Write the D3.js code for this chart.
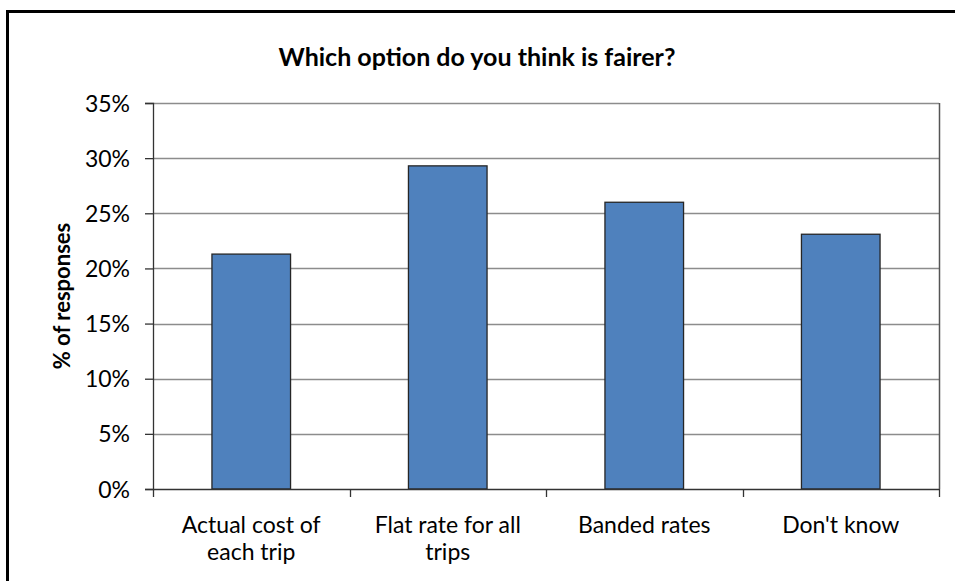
<!DOCTYPE html>
<html>
<head>
<meta charset="utf-8">
<script src="https://cdn.jsdelivr.net/npm/d3@7"></script>
<style>
  body { margin: 0; background: #fff; }
  svg text { font-family: Lato, "Open Sans", sans-serif; fill: #000; }
</style>
</head>
<body>
<svg id="chart"></svg>
<script>
// categories and share of responses (%)
const categories = [["Actual cost of", "each trip"], ["Flat rate for all", "trips"], ["Banded rates"], ["Don't know"]];
const values = [21.3, 29.3, 26.0, 23.1];
const yTicks = [0, 5, 10, 15, 20, 25, 30, 35];

const width = 955, height = 581;
const margin = {top: 103, right: 16, bottom: 92, left: 153};

const svg = d3.select("#chart")
    .attr("width", width)
    .attr("height", height);

// outer frame
svg.append("rect")
    .attr("x", 7.5).attr("y", 11.5)
    .attr("width", width).attr("height", height)
    .attr("fill", "none")
    .attr("stroke", "#000")
    .attr("stroke-width", 3);

const innerW = width - margin.left - margin.right;
const innerH = height - margin.top - margin.bottom;

const chart = svg.append("g")
    .attr("transform", `translate(${margin.left},${margin.top})`);

const x = d3.scaleBand()
    .domain(d3.range(categories.length))
    .range([0, innerW])
    .paddingInner(0.6)
    .paddingOuter(0.3);

const y = d3.scaleLinear()
    .domain([0, 35])
    .range([innerH, 0]);

// gridlines
chart.append("g")
    .selectAll("line")
    .data(yTicks.filter(d => d > 0))
    .join("line")
    .attr("x1", 0).attr("x2", innerW)
    .attr("y1", d => Math.round(y(d)) + 0.5)
    .attr("y2", d => Math.round(y(d)) + 0.5)
    .attr("stroke", "#8c8c8c")
    .attr("stroke-width", 1.3);

// right border of plot area
chart.append("line")
    .attr("x1", innerW + 0.5).attr("x2", innerW + 0.5)
    .attr("y1", 0).attr("y2", innerH)
    .attr("stroke", "#555")
    .attr("stroke-width", 1.5);

// bars
chart.append("g")
    .selectAll("rect")
    .data(values)
    .join("rect")
    .attr("x", (d, i) => x(i))
    .attr("y", d => y(d))
    .attr("width", x.bandwidth())
    .attr("height", d => innerH - y(d))
    .attr("fill", "#4f81bd")
    .attr("stroke", "#262626")
    .attr("stroke-width", 1.3);

// y axis
const yAxis = d3.axisLeft(y)
    .tickValues(yTicks)
    .tickSize(8)
    .tickPadding(15)
    .tickFormat(d => d + "%");

const yAxisG = chart.append("g").call(yAxis);
yAxisG.select(".domain").attr("stroke", "#333").attr("stroke-width", 1.3);
yAxisG.selectAll(".tick line").attr("stroke", "#333").attr("stroke-width", 1.3);
yAxisG.selectAll(".tick text")
    .style("font-size", "23px")
    .attr("dy", "0.35em");

// x axis with ticks at category boundaries
const xAxisG = chart.append("g")
    .attr("transform", `translate(0,${innerH})`);
xAxisG.append("line")
    .attr("x1", 0).attr("x2", innerW)
    .attr("y1", 0.5).attr("y2", 0.5)
    .attr("stroke", "#333")
    .attr("stroke-width", 1.3);
const step = x.step();
xAxisG.selectAll(".xtick")
    .data(d3.range(categories.length + 1))
    .join("line")
    .attr("class", "xtick")
    .attr("x1", i => Math.round(i * step) + 0.5)
    .attr("x2", i => Math.round(i * step) + 0.5)
    .attr("y1", 0).attr("y2", 8)
    .attr("stroke", "#333")
    .attr("stroke-width", 1.3);

const xLabels = xAxisG.selectAll(".xlabel")
    .data(categories)
    .join("text")
    .attr("class", "xlabel")
    .attr("text-anchor", "middle")
    .style("font-size", "23px")
    .attr("transform", (d, i) => `translate(${x(i) + x.bandwidth() / 2},44)`);
xLabels.selectAll("tspan")
    .data(d => d)
    .join("tspan")
    .attr("x", 0)
    .attr("y", (d, i) => i * 27)
    .text(d => d);

// title
svg.append("text")
    .attr("x", 477)
    .attr("y", 66)
    .attr("text-anchor", "middle")
    .style("font-size", "25px")
    .style("font-weight", "bold")
    .text("Which option do you think is fairer?");

// y axis label
svg.append("text")
    .attr("transform", `translate(70,${margin.top + innerH / 2}) rotate(-90)`)
    .attr("text-anchor", "middle")
    .style("font-size", "22px")
    .style("font-weight", "bold")
    .text("% of responses");
</script>
</body>
</html>
